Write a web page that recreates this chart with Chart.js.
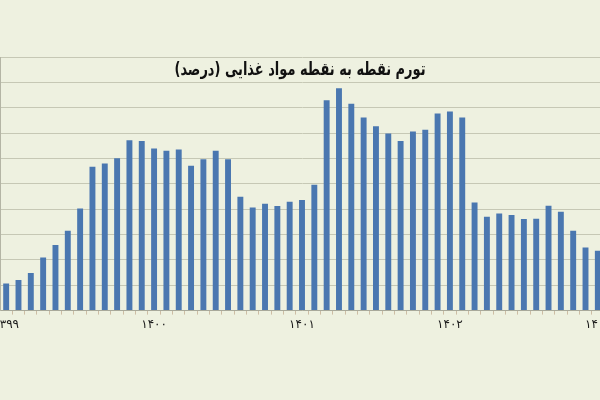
<!DOCTYPE html>
<html lang="fa">
<head>
<meta charset="utf-8">
<script src="https://cdn.jsdelivr.net/npm/chart.js@4"></script>
<style>
  html, body { margin: 0; padding: 0; background: #eef1e0; overflow: hidden; }
  #wrap { position: relative; width: 604px; height: 400px; }
</style>
</head>
<body>
<div id="wrap"><canvas id="chart"></canvas></div>
<script>
// ===== data =====
const chartTitle = "تورم نقطه به نقطه مواد غذایی (درصد)";
const yearLabels = ["۱۳۹۹", "۱۴۰۰", "۱۴۰۱", "۱۴۰۲", "۱۴۰۳"];
const inflation = [
  10.7, 12.1, 14.8, 20.9, 25.9, 31.5, 40.3, 56.7, 58.0, 60.1,
  67.2, 66.9, 63.9, 63.0, 63.5, 57.1, 59.7, 63.0, 59.7, 44.9,
  40.7, 42.1, 41.2, 42.9, 43.6, 49.6, 82.9, 87.7, 81.6, 76.1,
  72.7, 69.8, 66.9, 70.6, 71.3, 77.7, 78.5, 76.1, 42.6, 37.0,
  38.3, 37.7, 36.1, 36.2, 41.3, 39.0, 31.5, 24.9, 23.6
];
const yMax = 100;
const yStep = 10;

// one category per month, labelled by year
const categories = inflation.map((v, i) => yearLabels[Math.floor(i / 12)] + "/" + (i % 12 + 1));

// title sits inside the plot, like the original (narrowed a bit, the original face is condensed)
const titlePlugin = {
  id: "innerTitle",
  afterDraw(chart) {
    const ctx = chart.ctx;
    ctx.save();
    ctx.font = "bold 18px 'DejaVu Sans'";
    ctx.fillStyle = "#111";
    ctx.textAlign = "center";
    ctx.textBaseline = "middle";
    ctx.direction = "rtl";
    ctx.translate(300, 70);
    ctx.scale(0.72, 1);
    ctx.fillText(chartTitle, 0, 0);
    ctx.restore();
  }
};

new Chart(document.getElementById("chart"), {
  type: "bar",
  data: {
    labels: categories,
    datasets: [{
      data: inflation,
      backgroundColor: "#4a77b0",
      borderWidth: 0,
      barPercentage: 0.48,
      categoryPercentage: 1
    }]
  },
  options: {
    responsive: true,
    maintainAspectRatio: false,
    animation: false,
    layout: { padding: { top: 57, bottom: 65, left: 0, right: 0 } },
    plugins: { legend: { display: false }, tooltip: { enabled: false } },
    scales: {
      x: {
        grid: { drawOnChartArea: false, drawTicks: true, tickLength: 4, color: "#cdbda4" },
        border: { color: "#a8a99a" },
        ticks: {
          autoSkip: false,
          maxRotation: 0,
          padding: 3,
          color: "#1a1a1a",
          font: { family: "'DejaVu Sans'", size: 12 },
          callback: (v, i) => (i % 12 === 0 ? yearLabels[i / 12] : "")
        },
        afterFit(scale) { scale.paddingLeft = 0; scale.paddingRight = 0; }
      },
      y: {
        min: 0,
        max: yMax,
        ticks: { display: false, stepSize: yStep },
        grid: { color: "#c6c8b5", drawTicks: false },
        border: { color: "#b4b5a5" }
      }
    }
  },
  plugins: [titlePlugin]
});
</script>
</body>
</html>
